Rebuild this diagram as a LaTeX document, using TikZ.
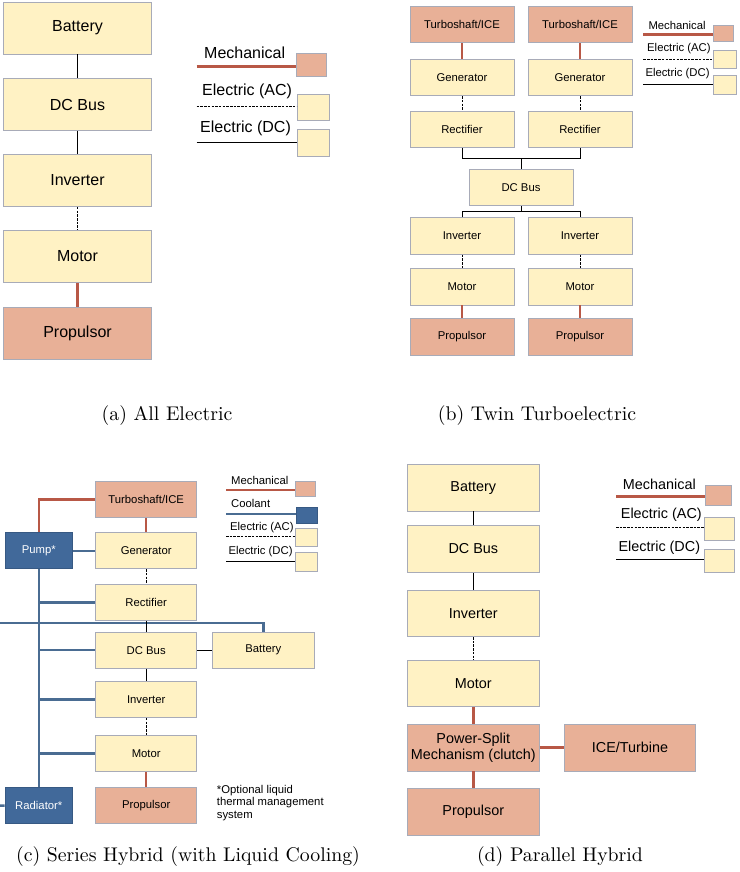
\documentclass[tikz,border=0pt]{standalone}
\usepackage{fontspec}
\newfontfamily\arialfont{Liberation Sans}
\usepackage{tikz}
\usetikzlibrary{positioning}
\definecolor{elecfill}{HTML}{FFF2C4}
\definecolor{mechfill}{HTML}{E8B097}
\definecolor{coolfill}{HTML}{41699A}
\definecolor{edgegray}{HTML}{A8ABB8}
\definecolor{mechred}{HTML}{B85846}
\definecolor{coolblue}{HTML}{4A6C92}
\begin{document}
\begin{tikzpicture}[x=1pt,y=-1pt,
  box/.style={draw=edgegray,line width=0.8pt,inner sep=0pt,align=center},
  el/.style={box,fill=elecfill},
  me/.style={box,fill=mechfill},
  co/.style={box,fill=coolfill,draw=coolfill!85!black,text=white},
  mech/.style={draw=mechred,line width=2.5pt},
  ac/.style={draw=black,line width=0.8pt,dash pattern=on 2.5pt off 1.2pt},
  dc/.style={draw=black,line width=1pt},
  cool/.style={draw=coolblue,line width=2.5pt},
  key/.style={anchor=west,inner sep=0pt},
  capnode/.style={scale=1.98,transform shape,inner sep=0pt}]
  \useasboundingbox (0,0) rectangle (739,872);
  % (a)
  \begin{scope}[every node/.append style={font=\arialfont\fontsize{16}{18}\selectfont},
    bx/.style={minimum width=148pt,minimum height=52pt}]
  \node[el,bx] (a1) at (77.5,28) {Battery};
  \node[el,bx] (a2) at (77.5,104.5) {DC Bus};
  \node[el,bx] (a3) at (77.5,180.5) {Inverter};
  \node[el,bx] (a4) at (77.5,256.5) {Motor};
  \node[me,bx] (a5) at (77.5,333) {Propulsor};
  \draw[dc,line width=1.3pt](a1)--(a2)--(a3);
  \draw[ac](a3)--(a4);
  \draw[mech,line width=3pt](a4)--(a5);
  \node[me,minimum width=30pt,minimum height=23pt] (am) at (311.7,64.8) {};
  \node[el,minimum width=32pt,minimum height=26pt] (aa) at (313,107.2) {};
  \node[el,minimum width=32pt,minimum height=27pt] (ad) at (313,143) {};
  \coordinate (am0) at (196.7,66.7);
  \coordinate (aa0) at (196.7,106);
  \coordinate (ad0) at (196.7,142.7);
  \draw[mech,line width=3pt](am0)--(am0 -| am.west);
  \draw[ac](aa0)--(aa0 -| aa.west);
  \draw[dc,line width=1.3pt](ad0)--(ad0 -| ad.west);
  \node[key] (amt) at (204,52.7) {Mechanical};
  \node[key] (aat) at (202,91.7) {Electric (AC)};
  \node[key] (adt) at (200,128.3) {Electric (DC)};
  \end{scope}
  % (b)
  \begin{scope}[every node/.append style={font=\arialfont\fontsize{11.3}{13}\selectfont},
    bx/.style={minimum width=104pt,minimum height=36.6pt}]
  \node[me,bx] (b1) at (462,24.5) {Turboshaft/ICE};
  \node[me,bx] (b2) at (580,24.5) {Turboshaft/ICE};
  \node[el,bx] (b3) at (462,77.5) {Generator};
  \node[el,bx] (b4) at (580,77.5) {Generator};
  \node[el,bx] (b5) at (462,129.5) {Rectifier};
  \node[el,bx] (b6) at (580,129.5) {Rectifier};
  \node[el,bx] (b7) at (521,187.5) {DC Bus};
  \node[el,bx] (b8) at (462,236) {Inverter};
  \node[el,bx] (b9) at (580,236) {Inverter};
  \node[el,bx] (b10) at (462,286.7) {Motor};
  \node[el,bx] (b11) at (580,286.7) {Motor};
  \node[me,bx] (b12) at (462,336.7) {Propulsor};
  \node[me,bx] (b13) at (580,336.7) {Propulsor};
  \coordinate (bj1) at (521,158.3);
  \coordinate (bj2) at (521,211.7);
  \draw[mech](b1)--(b3);
  \draw[mech](b2)--(b4);
  \draw[ac](b3)--(b5);
  \draw[ac](b4)--(b6);
  \draw[dc](b5.south) |- (bj1) -| (b6.south);
  \draw[dc](bj1)--(b7)--(bj2);
  \draw[dc](b8.north) |- (bj2) -| (b9.north);
  \draw[ac](b8)--(b10);
  \draw[ac](b9)--(b11);
  \draw[mech](b10)--(b12);
  \draw[mech](b11)--(b13);
  \node[me,minimum width=20pt,minimum height=16pt] (bm) at (723.3,33.7) {};
  \node[el,minimum width=23.4pt,minimum height=17.6pt] (ba) at (725,59.5) {};
  \node[el,minimum width=23.4pt,minimum height=18.6pt] (bd) at (725,85) {};
  \coordinate (bm0) at (643.3,34.3);
  \coordinate (ba0) at (643.3,59);
  \coordinate (bd0) at (643.3,84.3);
  \draw[mech](bm0)--(bm0 -| bm.west);
  \draw[ac](ba0)--(ba0 -| ba.west);
  \draw[dc](bd0)--(bd0 -| bd.west);
  \node[key] (bmt) at (648.3,25) {Mechanical};
  \node[key] (bat) at (647,49) {Electric (AC)};
  \node[key] (bdt) at (645.3,74) {Electric (DC)};
  \end{scope}
  % (c)
  \begin{scope}[every node/.append style={font=\arialfont\fontsize{11.3}{12.5}\selectfont},
    bx/.style={minimum width=101pt,minimum height=36pt}]
  \node[me,bx] (c1) at (146.2,499.5) {Turboshaft/ICE};
  \node[el,bx] (c2) at (146.2,550.8) {Generator};
  \node[el,bx] (c3) at (146.2,602.3) {Rectifier};
  \node[el,bx] (c4) at (146.2,650.2) {DC Bus};
  \node[el,bx] (c5) at (146.2,699.5) {Inverter};
  \node[el,bx] (c6) at (146.2,753.7) {Motor};
  \node[me,bx] (c7) at (146.2,805.5) {Propulsor};
  \node[el,bx,minimum width=102pt] (c8) at (263.3,650.2) {Battery};
  \node[co,bx,minimum width=67.7pt] (c9) at (38.8,550.8) {Pump*};
  \node[co,bx,minimum width=67.7pt] (c10) at (38.8,805.5) {Radiator*};
  \coordinate (cl) at (0,623);
  \coordinate (cr) at (0,805.7);
  \draw[cool](cl) -| (c8.north);
  \draw[cool](c9.south)--(c10.north);
  \foreach \n in {3,4,5,6}
    \draw[cool](c9.south |- c\n.west)--(c\n.west);
  \draw[cool](c9)--(c2);
  \draw[cool](cr)--(c10.west);
  \draw[mech](c1.west) -| (c9.north);
  \draw[mech](c1)--(c2);
  \draw[ac](c2)--(c3);
  \draw[dc](c3)--(c4)--(c5);
  \draw[dc](c4)--(c8);
  \draw[ac](c5)--(c6);
  \draw[mech](c6)--(c7);
  \node[anchor=north west,align=left,inner sep=0pt] (c11) at (216.7,785) {*Optional liquid\\thermal management\\system};
  \node[me,minimum width=20pt,minimum height=15pt] (cm) at (305.3,489.2) {};
  \node[co,minimum width=20.3pt,minimum height=16pt] (cc) at (306.8,515.3) {};
  \node[el,minimum width=22.4pt,minimum height=17.7pt] (ca) at (306.5,537.2) {};
  \node[el,minimum width=22.4pt,minimum height=19pt] (cd) at (306.5,562.2) {};
  \coordinate (cm0) at (226,490);
  \coordinate (cc0) at (226,514);
  \coordinate (ca0) at (226,536.7);
  \coordinate (cd0) at (226,561.7);
  \draw[mech](cm0)--(cm0 -| cm.west);
  \draw[cool](cc0)--(cc0 -| cc.west);
  \draw[ac](ca0)--(ca0 -| ca.west);
  \draw[dc](cd0)--(cd0 -| cd.west);
  \node[key] (cmt) at (231,480.7) {Mechanical};
  \node[key] (cct) at (231,503) {Coolant};
  \node[key] (cat) at (230,527.3) {Electric (AC)};
  \node[key] (cdt) at (228.3,552) {Electric (DC)};
  \end{scope}
  % (d)
  \begin{scope}[every node/.append style={font=\arialfont\fontsize{14.4}{16.3}\selectfont},
    bx/.style={minimum width=132pt,minimum height=46.7pt}]
  \node[el,bx] (d1) at (473.3,487.7) {Battery};
  \node[el,bx] (d2) at (473.3,549) {DC Bus};
  \node[el,bx] (d3) at (473.3,613.3) {Inverter};
  \node[el,bx] (d4) at (473.3,683.3) {Motor};
  \node[me,bx] (d5) at (473.3,747.7) {Power-Split\\Mechanism (clutch)};
  \node[me,bx] (d6) at (473.3,811.7) {Propulsor};
  \node[me,bx,minimum width=131.4pt] (d7) at (630,747.7) {ICE/Turbine};
  \draw[dc,line width=1.3pt](d1)--(d2)--(d3);
  \draw[ac](d3)--(d4);
  \draw[mech,line width=3pt](d4)--(d5)--(d6);
  \draw[mech,line width=3pt](d5)--(d7);
  \node[me,minimum width=26.7pt,minimum height=20pt] (dm) at (718.3,495) {};
  \node[el,minimum width=29.7pt,minimum height=22.7pt] (da) at (719.2,528.7) {};
  \node[el,minimum width=29.7pt,minimum height=23.4pt] (dd) at (719.2,561) {};
  \coordinate (dm0) at (616,496.7);
  \coordinate (da0) at (616,527.7);
  \coordinate (dd0) at (616,559.3);
  \draw[mech,line width=3pt](dm0)--(dm0 -| dm.west);
  \draw[ac](da0)--(da0 -| da.west);
  \draw[dc,line width=1.3pt](dd0)--(dd0 -| dd.west);
  \node[key] (dmt) at (622.7,484.3) {Mechanical};
  \node[key] (dat) at (620.7,515) {Electric (AC)};
  \node[key] (ddt) at (618.3,547.7) {Electric (DC)};
  \end{scope}
  % captions
  \node[capnode] (capa) at (167,416) {(a) All Electric};
  \node[capnode] (capb) at (537,416) {(b) Twin Turboelectric};
  \node[capnode] (capc) at (188,857) {(c) Series Hybrid (with Liquid Cooling)};
  \node[capnode] (capd) at (560,857) {(d) Parallel Hybrid};
\end{tikzpicture}
\end{document}
